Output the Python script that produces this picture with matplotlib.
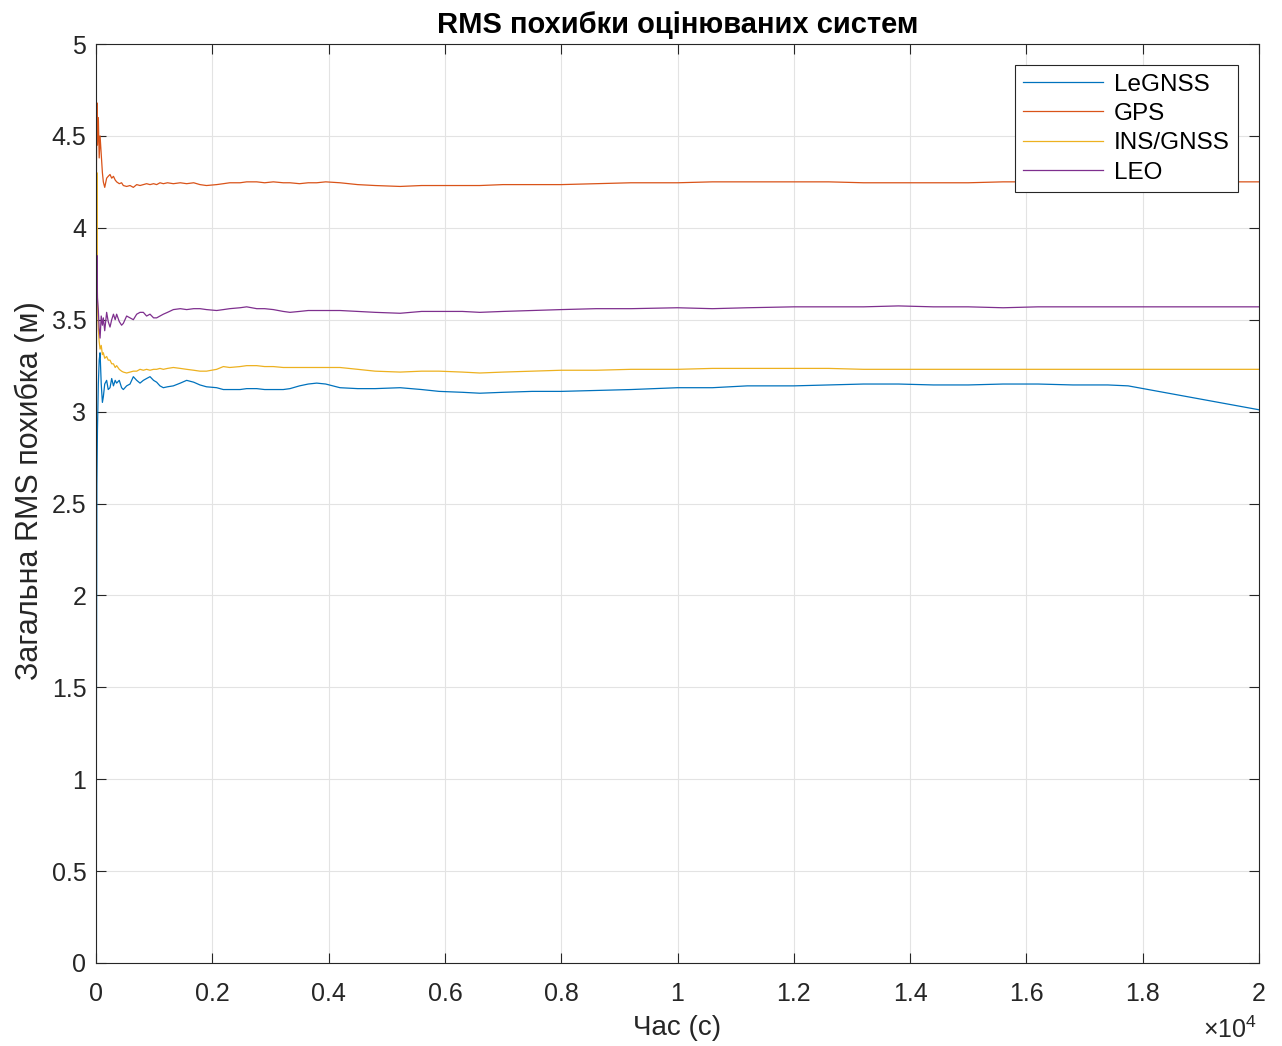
import matplotlib
matplotlib.use("Agg")
import matplotlib.pyplot as plt
from matplotlib.ticker import FuncFormatter, MultipleLocator

plt.rcParams['font.family'] = ['Liberation Sans', 'DejaVu Sans']
plt.rcParams['mathtext.fontset'] = 'custom'
plt.rcParams['mathtext.rm'] = 'Liberation Sans'

# ---- data ----
t = [0, 8, 15, 25, 40, 55, 70, 90, 110, 126,
     150, 183, 210, 241, 270, 300, 330, 355, 400, 440,
     470, 527, 585, 642, 700, 757, 814, 870, 929, 990,
     1043, 1100, 1158, 1230, 1330, 1450, 1559, 1680, 1788, 1900,
     2075, 2190, 2300, 2477, 2591, 2764, 2900, 3050, 3220, 3336,
     3500, 3650, 3795, 3950, 4196, 4500, 4800, 5230, 5600, 5900,
     6300, 6600, 7000, 7500, 8000, 8600, 9200, 10000, 10600, 11200,
     12000, 12600, 13200, 13800, 14400, 15000, 15600, 16200, 16800, 17400,
     17750, 20000]

legnss = [0, 1.5, 2.6, 2.9, 3.15, 3.28, 3.32, 3.15, 3.05, 3.08,
          3.15, 3.17, 3.12, 3.13, 3.18, 3.14, 3.17, 3.155, 3.17, 3.13,
          3.12, 3.14, 3.15, 3.19, 3.17, 3.155, 3.17, 3.18, 3.19, 3.17,
          3.16, 3.14, 3.13, 3.135, 3.14, 3.155, 3.17, 3.16, 3.145, 3.135,
          3.13, 3.12, 3.12, 3.12, 3.125, 3.125, 3.12, 3.12, 3.12, 3.125,
          3.14, 3.15, 3.155, 3.15, 3.13, 3.125, 3.125, 3.13, 3.12, 3.11,
          3.105, 3.10, 3.105, 3.11, 3.11, 3.115, 3.12, 3.13, 3.13, 3.14,
          3.14, 3.145, 3.15, 3.15, 3.145, 3.145, 3.15, 3.15, 3.145, 3.145,
          3.14, 3.01]

gps = [0, 4.35, 4.68, 4.45, 4.60, 4.38, 4.50, 4.40, 4.30, 4.25,
       4.22, 4.27, 4.28, 4.29, 4.27, 4.28, 4.26, 4.25, 4.24, 4.245,
       4.23, 4.225, 4.23, 4.22, 4.235, 4.23, 4.235, 4.24, 4.235, 4.24,
       4.235, 4.245, 4.24, 4.245, 4.24, 4.245, 4.24, 4.245, 4.235, 4.23,
       4.235, 4.24, 4.245, 4.245, 4.25, 4.25, 4.245, 4.25, 4.245, 4.245,
       4.24, 4.245, 4.245, 4.25, 4.245, 4.235, 4.23, 4.225, 4.23, 4.23,
       4.23, 4.23, 4.235, 4.235, 4.235, 4.24, 4.245, 4.245, 4.25, 4.25,
       4.25, 4.25, 4.245, 4.245, 4.245, 4.245, 4.25, 4.25, 4.25, 4.25,
       4.25, 4.25]

ins_gnss = [0, 3.9, 4.30, 3.60, 3.45, 3.38, 3.34, 3.36, 3.31, 3.32,
            3.29, 3.30, 3.28, 3.28, 3.26, 3.26, 3.24, 3.25, 3.23, 3.22,
            3.215, 3.21, 3.215, 3.22, 3.22, 3.23, 3.225, 3.23, 3.225, 3.23,
            3.23, 3.235, 3.23, 3.235, 3.24, 3.235, 3.23, 3.225, 3.22, 3.22,
            3.23, 3.245, 3.24, 3.245, 3.25, 3.25, 3.245, 3.245, 3.24, 3.24,
            3.24, 3.24, 3.24, 3.24, 3.24, 3.23, 3.22, 3.215, 3.22, 3.22,
            3.215, 3.21, 3.215, 3.22, 3.225, 3.225, 3.23, 3.23, 3.235, 3.235,
            3.235, 3.235, 3.23, 3.23, 3.23, 3.23, 3.23, 3.23, 3.23, 3.23,
            3.23, 3.23]

leo = [0, 3.60, 3.85, 3.62, 3.55, 3.45, 3.40, 3.52, 3.47, 3.51,
       3.44, 3.54, 3.49, 3.46, 3.50, 3.53, 3.50, 3.53, 3.49, 3.47,
       3.48, 3.52, 3.51, 3.50, 3.53, 3.54, 3.54, 3.52, 3.53, 3.51,
       3.51, 3.52, 3.53, 3.54, 3.555, 3.56, 3.555, 3.56, 3.56, 3.555,
       3.55, 3.555, 3.56, 3.565, 3.57, 3.56, 3.56, 3.555, 3.545, 3.54,
       3.545, 3.55, 3.55, 3.55, 3.55, 3.545, 3.54, 3.535, 3.545, 3.545,
       3.545, 3.54, 3.545, 3.55, 3.555, 3.56, 3.56, 3.565, 3.56, 3.565,
       3.57, 3.57, 3.57, 3.575, 3.57, 3.57, 3.565, 3.57, 3.57, 3.57,
       3.57, 3.57]

series_names = ['LeGNSS', 'GPS', 'INS/GNSS', 'LEO']
series_values = [legnss, gps, ins_gnss, leo]
colors = ['#0072BD', '#D95319', '#EDB120', '#7E2F8E']

title = 'RMS похибки оцінюваних систем'
xlabel = 'Час (с)'
ylabel = 'Загальна RMS похибка (м)'

# ---- figure ----
fig = plt.figure(figsize=(12.82, 10.46), dpi=100)
ax = fig.add_axes([96/1282, 1 - 963/1046, (1259-96)/1282, (963-44)/1046])

for name, vals, c in zip(series_names, series_values, colors):
    ax.plot(t, vals, color=c, lw=0.9, label=name)

ax.set_xlim(0, 20000)
ax.set_ylim(0, 5)
ax.xaxis.set_major_locator(MultipleLocator(2000))
ax.yaxis.set_major_locator(MultipleLocator(0.5))
ax.xaxis.set_major_formatter(FuncFormatter(lambda v, p: f'{v/1e4:g}'))
ax.yaxis.set_major_formatter(FuncFormatter(lambda v, p: f'{v:g}'))

ax.grid(True, color='#e3e3e3', lw=0.8)
ax.set_axisbelow(True)
ax.tick_params(direction='in', top=True, right=True, length=7, width=0.8,
               labelsize=18, colors='#262626', pad=7)
ax.tick_params(axis='x', pad=14)
for s in ax.spines.values():
    s.set_color('#262626')
    s.set_linewidth(0.8)

ax.set_title(title, fontsize=21, fontweight='bold', pad=8, color='black')
ax.set_xlabel(xlabel, fontsize=20, color='#262626', labelpad=6)
ax.set_ylabel(ylabel, fontsize=22, color='#262626', labelpad=5)
ax.yaxis.label.set_y(0.514)

fig.text(1257/1282, 1 - 1030/1046, r'$\times10^{4}$', ha='right', va='center',
         fontsize=18, color='#262626')

leg = ax.legend(loc='upper right', bbox_to_anchor=(0.982, 0.977), fontsize=17.5,
                frameon=True, fancybox=False, framealpha=1, edgecolor='#262626',
                handlelength=3.3, handletextpad=0.42, labelspacing=0.3,
                borderpad=0.35, borderaxespad=0)
leg.get_frame().set_linewidth(0.8)

fig.savefig('out.png', dpi=100)
